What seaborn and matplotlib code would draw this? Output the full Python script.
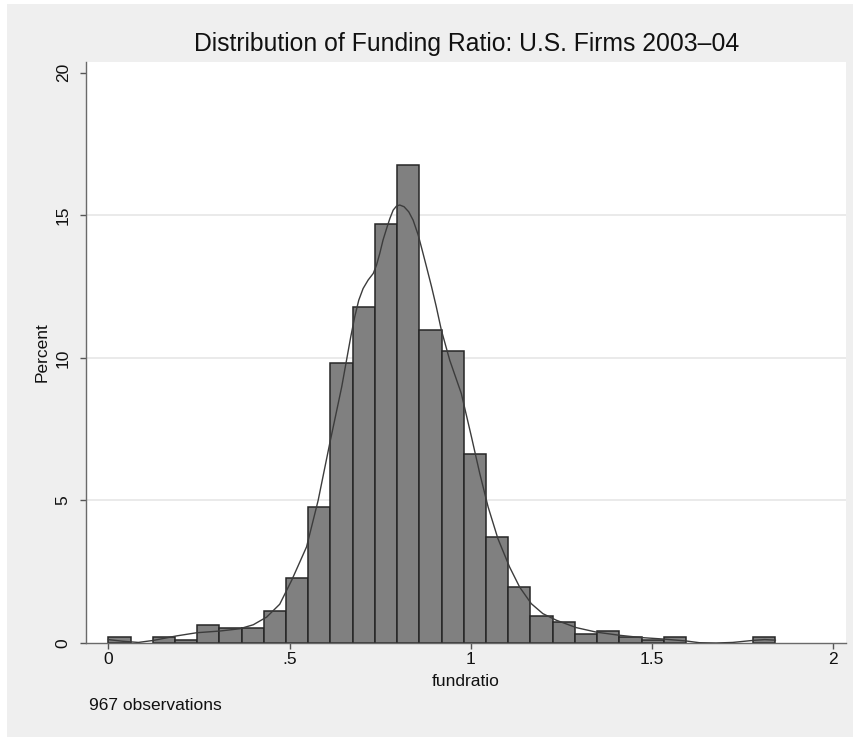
import numpy as np
import pandas as pd
import matplotlib
matplotlib.use("Agg")
import matplotlib.pyplot as plt
from matplotlib.patches import Rectangle
import seaborn as sns

# ---------------- data ----------------
n_obs = 967
bin_start = 0.0
bin_width = 0.0613
bin_counts = [2, 0, 2, 1, 6, 5, 5, 11, 22, 46,
              95, 114, 142, 162, 106, 99, 64, 36, 19, 9,
              7, 3, 4, 2, 1, 2, 0, 0, 0, 2]

kde_x = [0.000, 0.041, 0.083, 0.124, 0.189, 0.244, 0.308, 0.363, 0.400, 0.437,
         0.473, 0.506, 0.547, 0.579, 0.611, 0.644, 0.669, 0.680, 0.691, 0.703,
         0.717, 0.731, 0.740, 0.749, 0.758, 0.768, 0.777, 0.786, 0.795, 0.804,
         0.816, 0.829, 0.841, 0.855, 0.866, 0.878, 0.892, 0.905, 0.919, 0.942,
         0.974, 1.002, 1.025, 1.048, 1.075, 1.107, 1.135, 1.167, 1.199, 1.236,
         1.291, 1.347, 1.411, 1.471, 1.530, 1.595, 1.631, 1.677, 1.723, 1.778,
         1.811, 1.841]
kde_pct = [0.12, 0.06, 0.02, 0.09, 0.25, 0.36, 0.42, 0.50, 0.64, 0.91,
           1.36, 2.20, 3.37, 5.00, 7.00, 8.98, 10.74, 11.44, 12.02, 12.43,
           12.73, 12.96, 13.25, 13.66, 14.13, 14.54, 14.89, 15.18, 15.32, 15.36,
           15.30, 15.12, 14.83, 14.31, 13.78, 13.19, 12.49, 11.79, 10.97, 9.92,
           8.75, 7.23, 5.94, 4.77, 3.66, 2.67, 1.96, 1.38, 1.03, 0.80,
           0.54, 0.38, 0.27, 0.19, 0.14, 0.07, 0.01, 0.00, 0.02, 0.09,
           0.12, 0.10]

x_ticks = [0, 0.5, 1, 1.5, 2]
x_tick_labels = ["0", ".5", "1", "1.5", "2"]
y_ticks = [0, 5, 10, 15, 20]
y_tick_labels = ["0", "5", "10", "15", "20"]
grid_levels = [5, 10, 15]

title = "Distribution of Funding Ratio: U.S. Firms 2003\u201304"
x_label = "fundratio"
y_label = "Percent"
note = f"{n_obs} observations"

# ---------------- style ----------------
sns.set_style("white")
plt.rcParams["font.family"] = ["Liberation Sans", "DejaVu Sans"]

W, H = 860, 741
fig = plt.figure(figsize=(W / 100, H / 100), dpi=100, facecolor="white")
fig.patches.append(Rectangle((7 / W, 4 / H), 846 / W, 733 / H,
                             transform=fig.transFigure, facecolor="#efefef",
                             edgecolor="none", zorder=-10))

ax = fig.add_axes([86 / W, 1 - 643 / H, 760 / W, 581 / H])
ax.set_facecolor("white")

n_bins = len(bin_counts)
centers = bin_start + bin_width * (np.arange(n_bins) + 0.5)
df = pd.DataFrame({"x": centers, "count": bin_counts})

sns.histplot(data=df, x="x", weights="count", binwidth=bin_width,
             binrange=(bin_start, bin_start + n_bins * bin_width),
             stat="percent", color="#808080", edgecolor="#262626",
             linewidth=1.1, alpha=1.0, ax=ax, zorder=2)
for p in list(ax.patches):
    if p.get_height() <= 0:
        p.remove()

kdf = pd.DataFrame({"x": kde_x, "pct": kde_pct})
sns.lineplot(data=kdf, x="x", y="pct", color="#3c3c3c", linewidth=1.0,
             ax=ax, zorder=3, sort=False)

for g in grid_levels:
    ax.axhline(g, color="#e8e8e8", linewidth=1.3, zorder=0)

ax.set_xlim(-0.0615, 2.0354)
ax.set_ylim(0, 20.375)

ax.set_xticks(x_ticks)
ax.set_xticklabels(x_tick_labels)
ax.set_yticks(y_ticks)
ax.set_yticklabels(y_tick_labels, rotation=90, va="center")

ax.tick_params(axis="both", which="major", direction="out", length=4.5,
               width=1.0, color="#555555", labelsize=12.5, labelcolor="#111111",
               bottom=True, left=True)
ax.tick_params(axis="x", pad=2)
ax.tick_params(axis="y", pad=6.5)

for side in ["top", "right"]:
    ax.spines[side].set_visible(False)
for side in ["left", "bottom"]:
    ax.spines[side].set_color("#6a6a6a")
    ax.spines[side].set_linewidth(1.0)

ax.set_xlabel(x_label, fontsize=12.5, color="#111111")
ax.set_ylabel(y_label, fontsize=12.5, color="#111111")
ax.xaxis.set_label_coords((466 - 86) / 760, (643 - 682) / 581)
ax.xaxis.label.set_va("center")
ax.yaxis.set_label_coords((42 - 86) / 760, 0.5)
ax.yaxis.label.set_va("center")

fig.text(467 / W, 1 - 51.5 / H, title, ha="center", va="baseline",
         fontsize=17.8, color="#111111")
fig.text(89 / W, 1 - 705 / H, note, ha="left", va="center",
         fontsize=12.5, color="#111111")

fig.savefig("out.png", dpi=100, facecolor=fig.get_facecolor())
